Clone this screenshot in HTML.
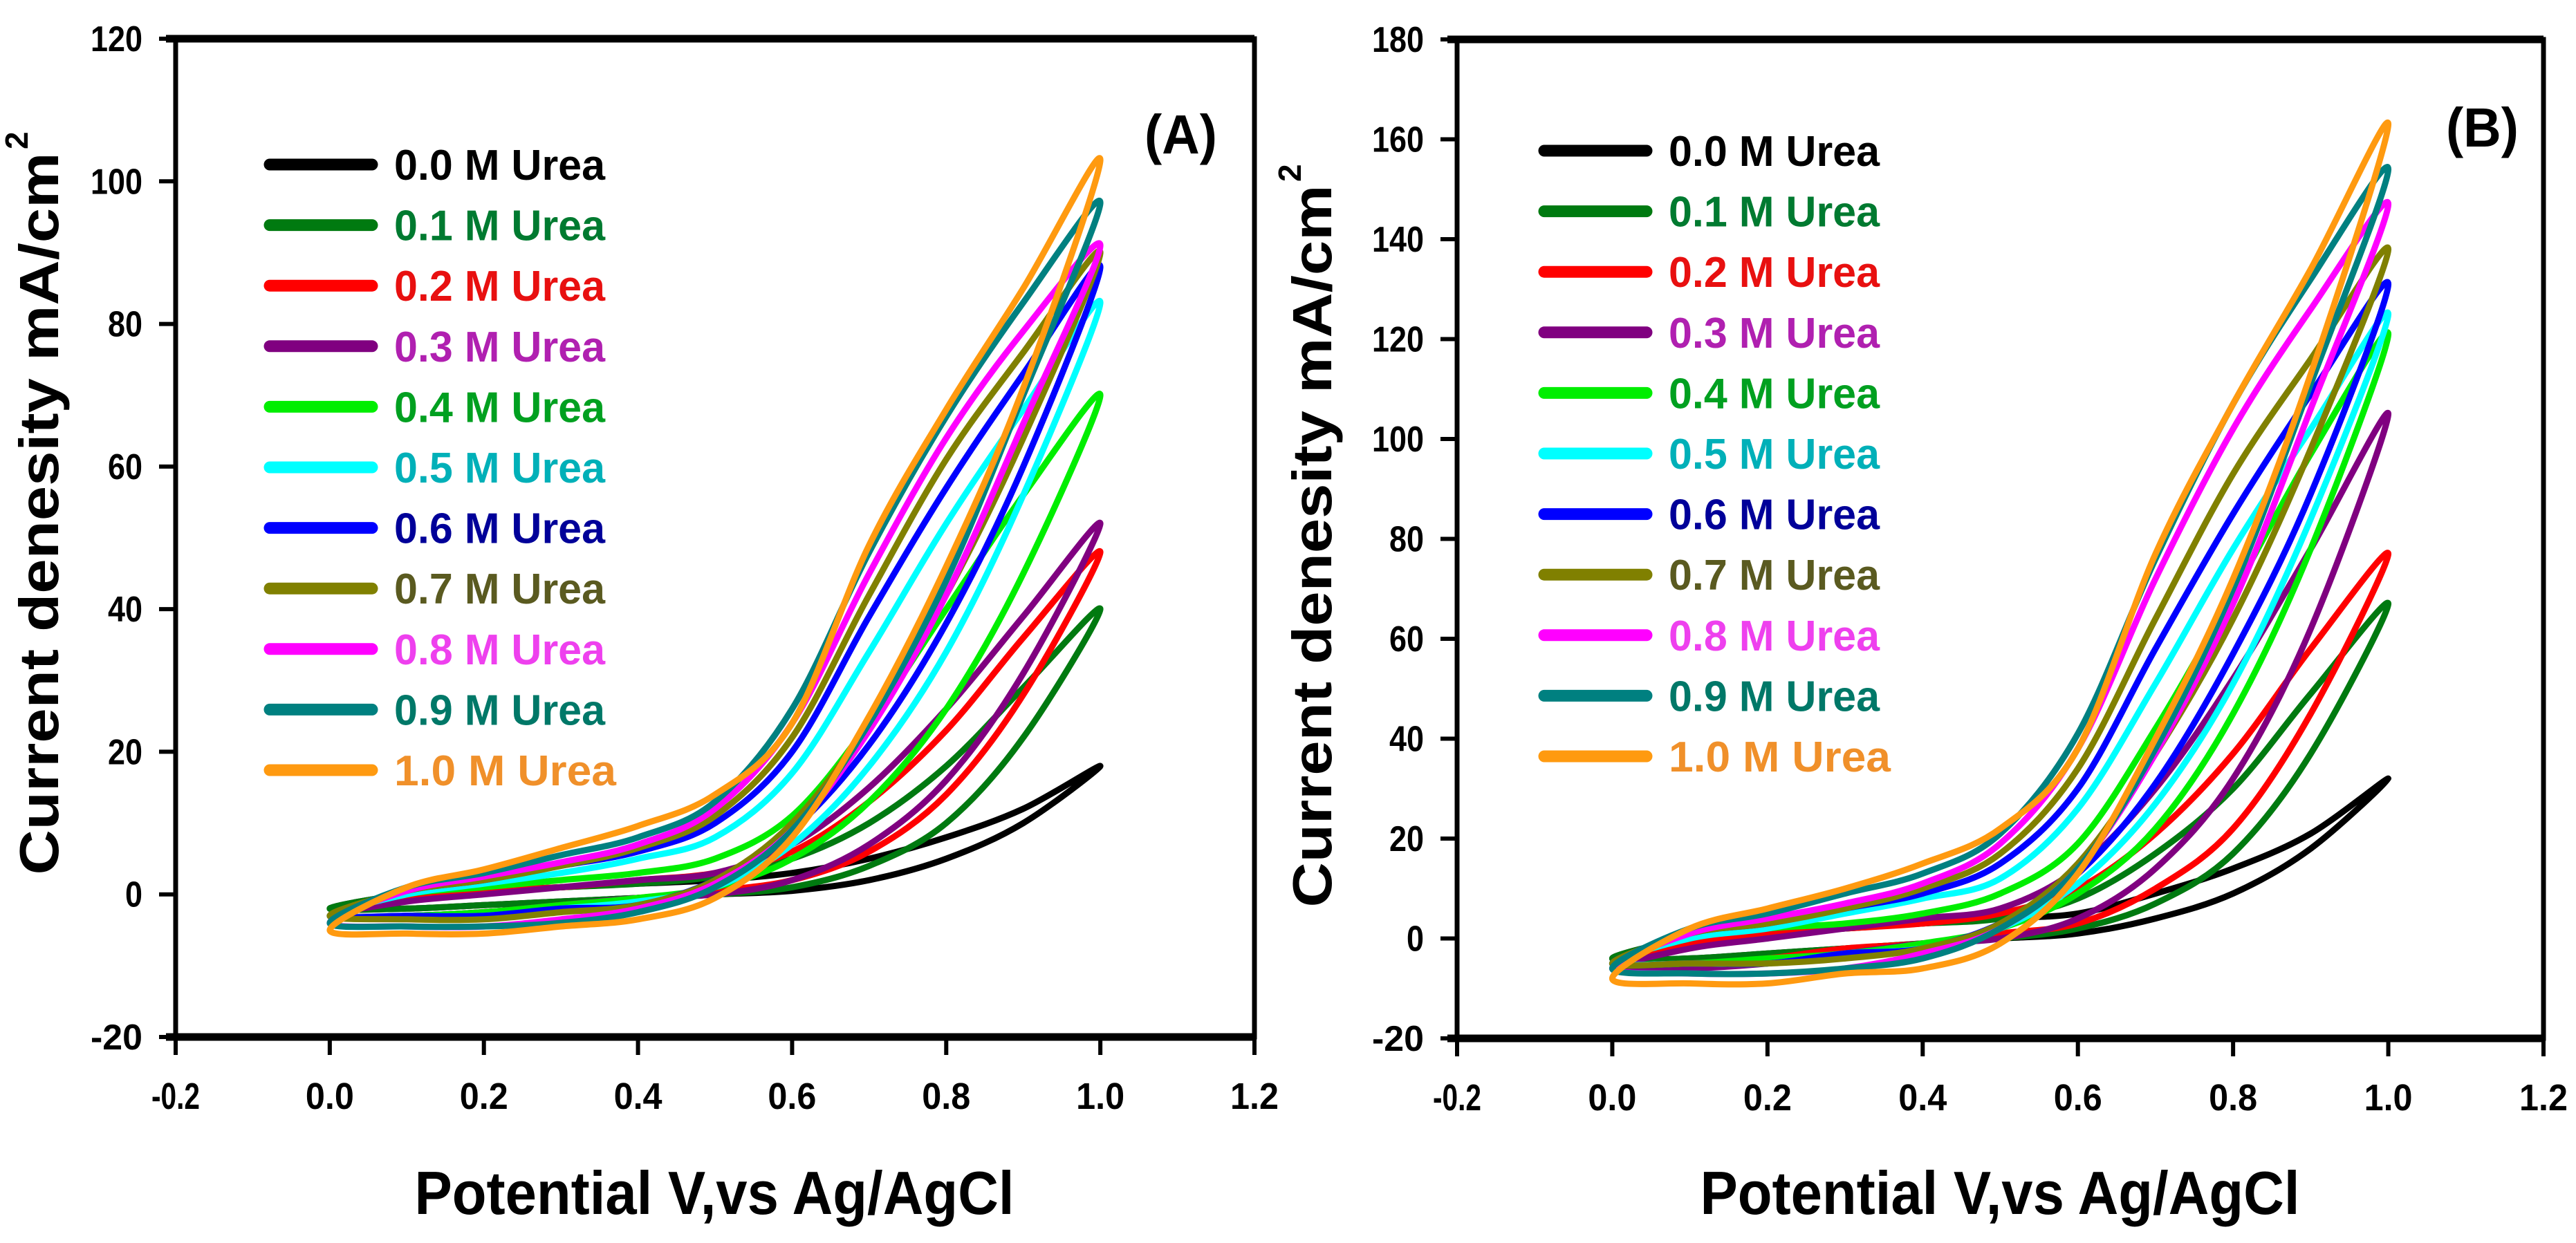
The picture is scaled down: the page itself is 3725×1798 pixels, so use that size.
<!DOCTYPE html>
<html><head><meta charset="utf-8"><style>
html,body{margin:0;padding:0;background:#fff;}
svg{display:block;font-family:"Liberation Sans",Arial,sans-serif;font-weight:bold;}
</style></head><body>
<svg id="chart" width="3725" height="1798" viewBox="0 0 3725 1798" xmlns="http://www.w3.org/2000/svg">
<g id="panelA"></g>
<g id="panelB"></g>
</svg>
<script>
const potentials = [0,0.1,0.2,0.3,0.4,0.5,0.6,0.7,0.8,0.9,1.0];
const seriesLabels = ["0.0 M Urea","0.1 M Urea","0.2 M Urea","0.3 M Urea","0.4 M Urea","0.5 M Urea","0.6 M Urea","0.7 M Urea","0.8 M Urea","0.9 M Urea","1.0  M Urea"];
const xTickLabels = ["-0.2","0.0","0.2","0.4","0.6","0.8","1.0","1.2"];
const yTickLabelsA = ["-20","0","20","40","60","80","100","120"];
const yTickLabelsB = ["-20","0","20","40","60","80","100","120","140","160","180"];
const upperA = [
 [-1,0,0.5,1,1.5,2,3,5,8,12,18],
 [-1,0,0.5,1,1.5,2.5,5,10,18,29,40],
 [-1.5,-0.5,0.5,1,2,3,6,13,23,36,48],
 [-2,-1,0,1,2,3,7,15,26,39,52],
 [-1,0,1,2,3,5,11,24,40,56,70],
 [-1,0,1.5,3,5,8,17,34,52,68,83],
 [-1,0.5,2,4,6,10,20,39,57,73,88],
 [-1,0.5,2,4,6.5,11,22,42,61,76,90],
 [-1,0.5,2.5,4.5,7,12,24,45,64,79,91],
 [-1,1,3,5.5,8,13,26,48,67,83,97],
 [-3,1,3.5,6.5,9.6,14,24,49,68,85,103]];
const lowerA = [
 [-2,-2,-1.5,-1,-0.5,0,0.5,2,5,10,18],
 [-2,-2,-1.5,-1,-0.5,0,1,4,10,22,40],
 [-3,-3,-2.5,-1.5,-0.5,0.5,2,6,14,28,48],
 [-3,-3,-2.5,-1.5,-0.5,0,2,7,16,31,52],
 [-3,-3,-2.5,-1.5,-0.5,1,5,13,26,45,70],
 [-3,-3,-3,-2,-1,1,7,18,34,56,83],
 [-3,-3,-3,-2,-1.5,2,9,21,38,60,88],
 [-3,-3.5,-3.5,-2.5,-1.5,2,10,24,42,64,90],
 [-4,-4.5,-4.5,-3.5,-2,1.5,9,23,42,66,91],
 [-4,-4.5,-4.5,-4,-2.5,1,9,24,44,70,97],
 [-5,-5.5,-5.5,-4.5,-3.5,-0.5,8,25,46,71,103]];
const upperB = [
 [-2,0,1,2,3,4,5,9,14,21,32],
 [-2,0,1,2,3,4,8,17,30,49,67],
 [-3,-1,1,2,3,5,10,21,37,58,77],
 [-4,-2,0,2,4,6,14,30,52,78,105],
 [-2,0,2,3,5,9,19,42,69,97,121],
 [-2,0,2,5,8,12,26,51,78,102,125],
 [-2,1,3,6,9,15,30,58,85,109,131],
 [-2,1,3,6,10,17,34,64,93,116,138],
 [-2,1,4,7,11,19,38,72,102,126,147],
 [-2,2,5,9,13,21,41,76,107,132,154],
 [-5,2,6,10,15,22,38,77,107,134,163]];
const lowerB = [
 [-4,-4,-3,-2,-1,0,1,4,9,18,32],
 [-4,-4,-3,-2,-1,0,2,7,17,37,67],
 [-5,-5,-4,-2,-1,1,3,10,22,45,77],
 [-6,-6,-5,-3,-1,0,4,14,32,62,105],
 [-5,-5,-4,-3,-1,2,9,22,45,78,121],
 [-5,-5,-5,-3,-2,2,11,27,51,84,125],
 [-5,-5,-5,-3,-2,3,13,31,57,89,131],
 [-5,-5,-5,-4,-2,3,15,37,64,98,138],
 [-6,-7,-7,-6,-3,2,14,37,67,106,147],
 [-6,-7,-7,-6,-4,2,14,38,70,111,154],
 [-8,-9,-9,-7,-6,-1,13,40,72,113,163]];

const lineColors = ["#000000","#007a10","#ff0000","#800080","#00ee00","#00ffff","#0000ff","#808000","#ff00ff","#008080","#ff9a10"];
const textColors = ["#000000","#007a30","#e81010","#b020b0","#00a020","#00b0b8","#000099","#5a5a20","#ee40ee","#007868","#f0902a"];
const NS = "http://www.w3.org/2000/svg";

function mk(tag, attrs, parent, txt){
  const e = document.createElementNS(NS, tag);
  for (const k in attrs) e.setAttribute(k, attrs[k]);
  if (txt !== undefined) e.textContent = txt;
  parent.appendChild(e);
  return e;
}
function smoothClosed(pts){
  const n = pts.length;
  let d = "M" + pts[0][0].toFixed(1) + "," + pts[0][1].toFixed(1);
  for (let i = 0; i < n; i++){
    const p0 = pts[(i-1+n)%n], p1 = pts[i], p2 = pts[(i+1)%n], p3 = pts[(i+2)%n];
    const c1x = p1[0] + (p2[0]-p0[0])/6, c1y = p1[1] + (p2[1]-p0[1])/6;
    const c2x = p2[0] - (p3[0]-p1[0])/6, c2y = p2[1] - (p3[1]-p1[1])/6;
    d += " C" + c1x.toFixed(1) + "," + c1y.toFixed(1) + " " + c2x.toFixed(1) + "," + c2y.toFixed(1) + " " + p2[0].toFixed(1) + "," + p2[1].toFixed(1);
  }
  return d + "Z";
}

function drawPanel(g, cfg){
  const xs = v => cfg.left + (v - (-0.2)) / 1.4 * (cfg.right - cfg.left);
  const ys = v => cfg.bottom - (v - (-20)) / (cfg.ymax + 20) * (cfg.bottom - cfg.top);
  const cg = mk("g", {}, g);
  
  
  for (let s = 0; s < cfg.upper.length; s++){
    const pts = [];
    for (let i = 0; i < potentials.length; i++) pts.push([xs(potentials[i]), ys(cfg.lower[s][i])]);
    for (let i = potentials.length - 2; i >= 1; i--) pts.push([xs(potentials[i]), ys(cfg.upper[s][i])]);
    const p = mk("path", {d: smoothClosed(pts), fill: "none", stroke: lineColors[s], "stroke-width": 9, "stroke-linejoin": "round"}, cg);
    
    
  }
  const fr = mk("rect", {x: cfg.left, y: cfg.top, width: cfg.right - cfg.left, height: cfg.bottom - cfg.top, fill: "none", stroke: "#000", "stroke-width": 7}, g);
  
  
  mk("line", {x1: cfg.left - 14, x2: cfg.right, y1: cfg.top, y2: cfg.top, stroke: "#000", "stroke-width": 11}, g);
  mk("line", {x1: cfg.left - 14, x2: cfg.right, y1: cfg.bottom, y2: cfg.bottom, stroke: "#000", "stroke-width": 11}, g);
  for (let i = 0; i < xTickLabels.length; i++){
    const v = -0.2 + 0.2 * i, x = xs(v);
    mk("line", {x1: x, x2: x, y1: cfg.bottom, y2: cfg.bottom + 26, stroke: "#000", "stroke-width": 6}, g);
    const t = mk("text", {x: x, y: cfg.bottom + 104, "text-anchor": "middle", "font-size": 54, textLength: 70, lengthAdjust: "spacingAndGlyphs"}, g, xTickLabels[i]);
    
    
  }
  for (let i = 0; i < cfg.yLabels.length; i++){
    const v = -20 + 20 * i, y = ys(v);
    mk("line", {x1: cfg.left - 24, x2: cfg.left, y1: y, y2: y, stroke: "#000", "stroke-width": 6}, g);
    const t = mk("text", {x: cfg.left - 48, y: y + 18, "text-anchor": "end", "font-size": 52, textLength: cfg.yLabels[i].length * 25, lengthAdjust: "spacingAndGlyphs"}, g, cfg.yLabels[i]);
    
    
  }
  for (let s = 0; s < seriesLabels.length; s++){
    const y = cfg.legY + s * 87.6;
    const l = mk("line", {x1: cfg.legX, x2: cfg.legX + 148, y1: y, y2: y, stroke: lineColors[s], "stroke-width": 17, "stroke-linecap": "round"}, g);
    
    
    const t = mk("text", {x: cfg.legX + 180, y: y + 22, "font-size": 62, fill: textColors[s], textLength: s === 10 ? 321 : 305, lengthAdjust: "spacingAndGlyphs"}, g, seriesLabels[s]);
    
    
  }
  const pl = mk("text", {x: cfg.labX, y: cfg.labY, "font-size": 80, textLength: 105, lengthAdjust: "spacingAndGlyphs"}, g, cfg.label);
  
  
  const xt = mk("text", {x: cfg.xtX, y: 1756, "text-anchor": "middle", "font-size": 88, textLength: 867, lengthAdjust: "spacingAndGlyphs"}, g, "Potential V,vs Ag/AgCl");
  
  
  const yg = mk("g", {transform: "translate(" + cfg.ytX + "," + cfg.ytY + ") rotate(-90)"}, g);
  
  
  mk("text", {x: 0, y: 0, "text-anchor": "middle", "font-size": 80, textLength: 1045, lengthAdjust: "spacingAndGlyphs"}, yg, "Current denesity mA/cm");
  mk("text", {x: 527, y: -44, "font-size": 46}, yg, "2");
}

drawPanel(document.getElementById("panelA"), {
  left: 254, right: 1814, top: 56, bottom: 1500, ymax: 120,
  upper: upperA, lower: lowerA, yLabels: yTickLabelsA,
  legX: 390, legY: 238, labX: 1655, labY: 222, label: "(A)",
  xtX: 1033, ytX: 84, ytY: 743
});
drawPanel(document.getElementById("panelB"), {
  left: 2107, right: 3678, top: 57, bottom: 1502, ymax: 180,
  upper: upperB, lower: lowerB, yLabels: yTickLabelsB,
  legX: 2233, legY: 218, labX: 3537, labY: 212, label: "(B)",
  xtX: 2892, ytX: 1925, ytY: 790
});
</script>
</body></html>
